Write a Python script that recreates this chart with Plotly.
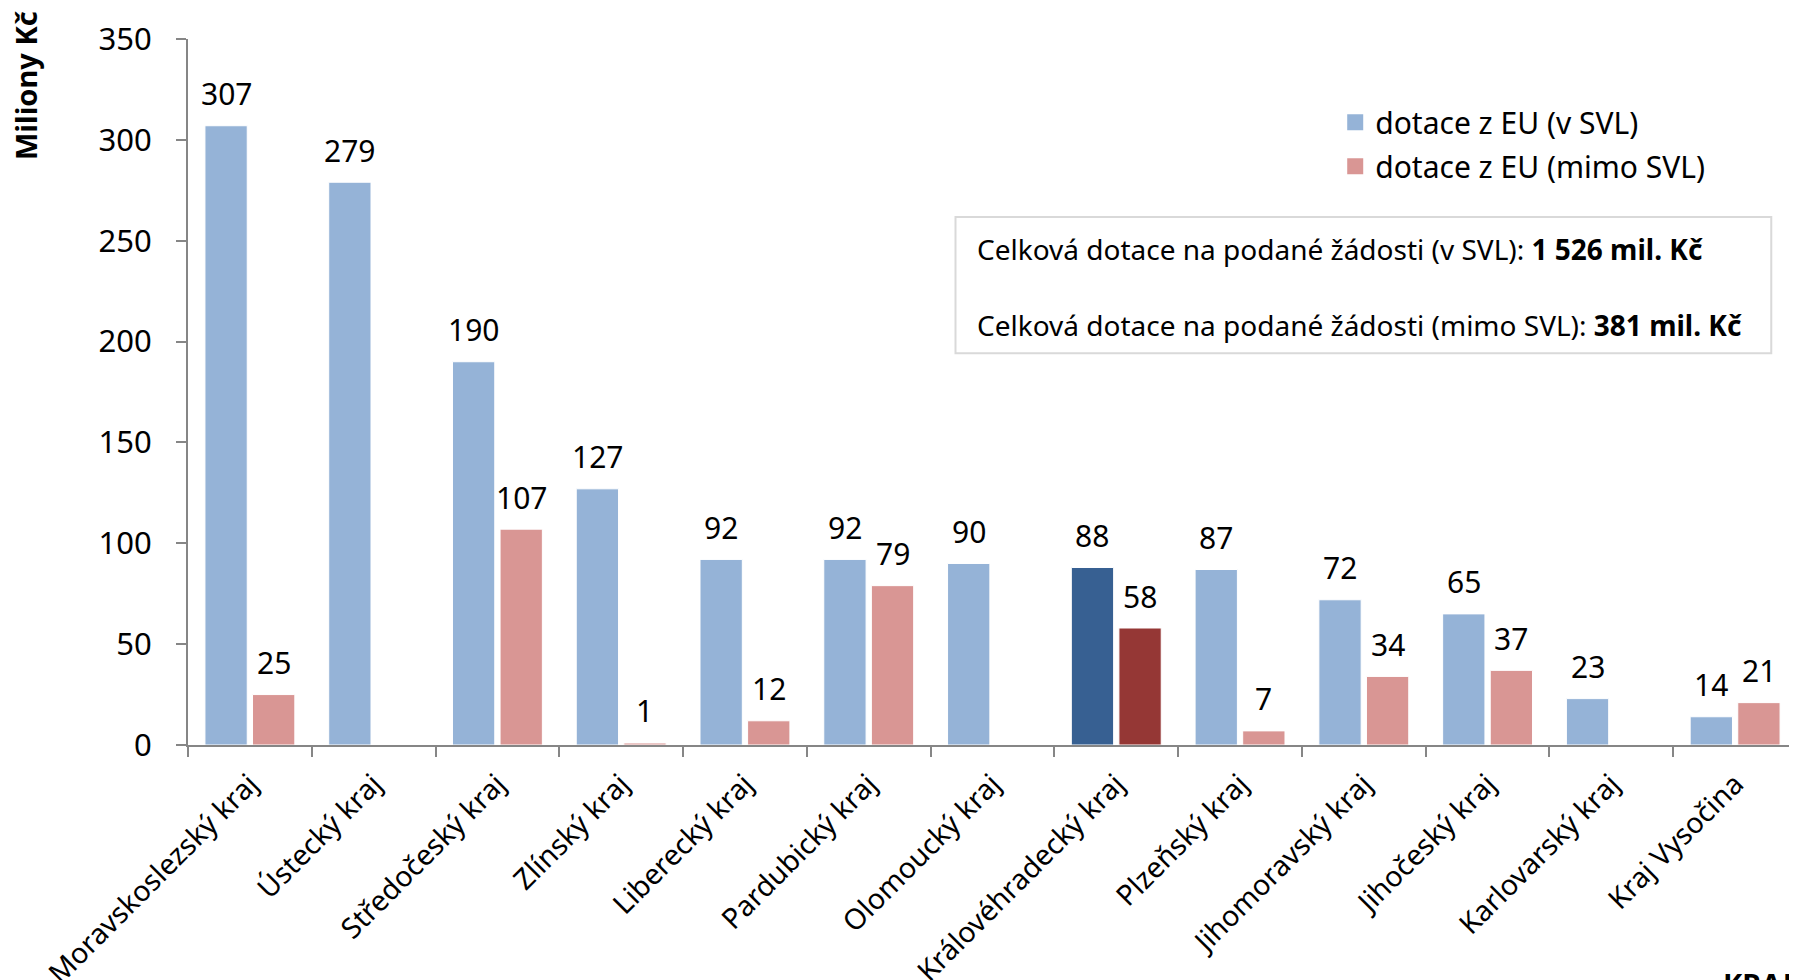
import plotly.graph_objects as go

categories = ["Moravskoslezský kraj", "Ústecký kraj", "Středočeský kraj", "Zlínský kraj",
              "Liberecký kraj", "Pardubický kraj", "Olomoucký kraj", "Královéhradecký kraj",
              "Plzeňský kraj", "Jihomoravský kraj", "Jihočeský kraj", "Karlovarský kraj",
              "Kraj Vysočina"]
v_svl = [307, 279, 190, 127, 92, 92, 90, 88, 87, 72, 65, 23, 14]
mimo_svl = [25, None, 107, 1, 12, 79, None, 58, 7, 34, 37, None, 21]
highlight = "Královéhradecký kraj"

series_names = ["dotace z EU (v SVL)", "dotace z EU (mimo SVL)"]
y_ticks = [0, 50, 100, 150, 200, 250, 300, 350]

BLUE, PINK = "#95B3D7", "#D99694"
DBLUE, DRED = "#376092", "#953735"
FONT = "Noto Sans"

blue_cols = [DBLUE if c == highlight else BLUE for c in categories]
pink_cols = [DRED if c == highlight else PINK for c in categories]

fig = go.Figure()
fig.add_trace(go.Bar(x=categories, y=v_svl, marker=dict(color=blue_cols, line=dict(color="white", width=1)),
                     showlegend=False, name=series_names[0]))
fig.add_trace(go.Bar(x=categories, y=mimo_svl, marker=dict(color=pink_cols, line=dict(color="white", width=1)),
                     showlegend=False, name=series_names[1]))
# legend entries with bigger square symbols
for nm, col in zip(series_names, [BLUE, PINK]):
    fig.add_trace(go.Scatter(x=[categories[0]], y=[None], mode="markers", name=nm,
                             marker=dict(symbol="square", size=20, color=col), legendgroup=nm))

annotations = []
slot_px = 23.8
for c, v in zip(categories, v_svl):
    if v is not None:
        annotations.append(dict(x=c, y=v, xref="x", yref="y", text=str(v), showarrow=False,
                                xshift=-slot_px, yshift=32, yanchor="middle", xanchor="center",
                                font=dict(family=FONT, size=30, color="black")))
for c, v in zip(categories, mimo_svl):
    if v is not None:
        annotations.append(dict(x=c, y=v, xref="x", yref="y", text=str(v), showarrow=False,
                                xshift=slot_px, yshift=32, yanchor="middle", xanchor="center",
                                font=dict(family=FONT, size=30, color="black")))

annotations.append(dict(x=0, y=1, xref="paper", yref="paper", text="<b>Miliony Kč</b>",
                        textangle=-90, showarrow=False, xanchor="center", yanchor="middle",
                        xshift=-163, yshift=-47, font=dict(family=FONT, size=29, color="black")))
annotations.append(dict(x=0.489, y=0.7025, xref="paper", yref="paper",
                        text="Celková dotace na podané žádosti (v SVL): <b>1 526 mil. Kč</b>",
                        showarrow=False, xanchor="left", yanchor="middle",
                        font=dict(family=FONT, size=28, color="black")))
annotations.append(dict(x=0.489, y=0.595, xref="paper", yref="paper",
                        text="Celková dotace na podané žádosti (mimo SVL): <b>381 mil. Kč</b>",
                        showarrow=False, xanchor="left", yanchor="middle",
                        font=dict(family=FONT, size=28, color="black")))
annotations.append(dict(x=0.953, y=-0.308, xref="paper", yref="paper", text="<b>KRAJ</b>",
                        showarrow=False, xanchor="left", yanchor="top",
                        font=dict(family=FONT, size=29, color="black")))

# page body has an 8px margin: shrink the figure so the plot area lands where the reference has it
fig.update_layout(
    width=1789, height=972,
    margin=dict(l=180, r=0, t=31, b=235),
    paper_bgcolor="white", plot_bgcolor="white",
    barmode="group", bargap=0.231, bargroupgap=0.111,
    font=dict(family=FONT, color="black"),
    annotations=annotations,
    shapes=[dict(type="rect", xref="paper", yref="paper", x0=0.477, x1=0.984, y0=0.555, y1=0.748,
                 line=dict(color="#D9D9D9", width=2), fillcolor="rgba(0,0,0,0)")],
    legend=dict(x=0.713, y=0.919, xanchor="left", yanchor="top", bgcolor="rgba(0,0,0,0)",
                font=dict(family=FONT, size=30, color="black"), tracegroupgap=2),
    xaxis=dict(range=[-0.5, len(categories) - 0.5], showline=True, linecolor="#868686", linewidth=2,
               ticks="outside", ticklen=10, tickcolor="#868686", tickwidth=2, tickson="boundaries",
               tickangle=-45, tickfont=dict(family=FONT, size=28.5, color="black"),
               ticklabelshift=0, ticklabelstandoff=9, automargin=False,
               showgrid=False, zeroline=False),
    yaxis=dict(range=[0, 350], tickvals=y_ticks, showline=True, linecolor="#868686", linewidth=2,
               ticks="outside", ticklen=10, tickcolor="#868686", tickwidth=2,
               tickfont=dict(family=FONT, size=31, color="black"), ticklabelstandoff=18,
               automargin=False, showgrid=False, zeroline=False),
)

fig.write_html("out.html")
